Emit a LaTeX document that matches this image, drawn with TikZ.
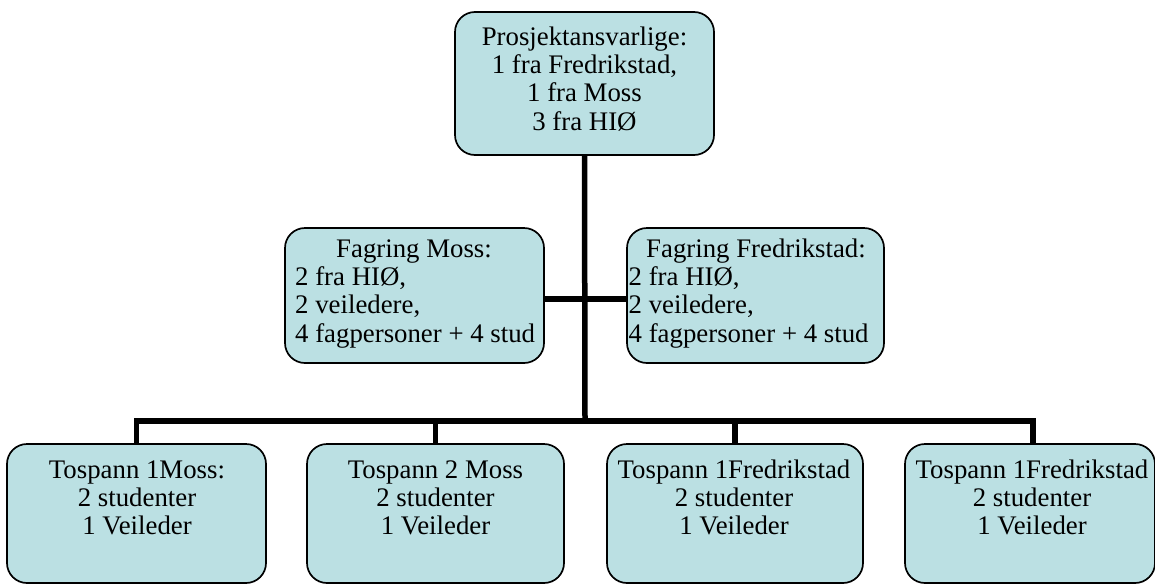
\documentclass[tikz,border=0pt]{standalone}
\usepackage{fontspec}
\setmainfont{Liberation Serif}
\definecolor{boxfill}{HTML}{BBE0E3}
\begin{document}
\begin{tikzpicture}[x=1pt,y=-1pt,
  box/.style={draw=black, line width=1.7pt, fill=boxfill, rounded corners=20pt, rectangle, inner sep=0pt},
  conn/.style={draw=black, line width=5.5pt, line join=miter},
  txt/.style={inner sep=0pt, font=\fontsize{26.8}{28.3}\selectfont},
]
\useasboundingbox (0,0) rectangle (1155,584);
\newcommand{\fl}{\rule{0pt}{22pt}}
% boxes
\node[box, minimum width=259pt, minimum height=143pt] (top) at (584.5,83.5) {};
\node[box, minimum width=259pt, minimum height=135pt] (fm) at (414.5,295.5) {};
\node[box, minimum width=257pt, minimum height=135pt] (ff) at (755.5,295.5) {};
\node[box, minimum width=259pt, minimum height=139pt] (b1) at (136.5,513.5) {};
\node[box, minimum width=257pt, minimum height=139pt] (b2) at (435.5,513.5) {};
\node[box, minimum width=256pt, minimum height=139pt] (b3) at (735,513.5) {};
\node[box, minimum width=250pt, minimum height=139pt] (b4) at (1030,513.5) {};
% connectors
\coordinate (bus) at (585,421);
\coordinate (fj) at (585,299);
\draw[conn] (top.south) -- (bus);
\draw[conn] (fm.east |- fj) -- (ff.west |- fj);
\draw[conn] (b1.north) -- (b1.north |- bus) -- ([xshift=3pt]b4.north |- bus) -- ([xshift=3pt]b4.north);
\draw[conn] (b2.north) -- (b2.north |- bus);
\draw[conn] (b3.north) -- (b3.north |- bus);
% texts
\node[txt, anchor=north, align=center] (ttop) at (584.5,23) {\fl Prosjektansvarlige:\\1 fra Fredrikstad,\\1 fra Moss\\3 fra HIØ};
\node[txt, anchor=north] (tfm1) at (414,235) {\fl Fagring Moss:};
\node[txt, anchor=north west, align=left] (tfm2) at (295,263.3) {\fl 2 fra HIØ,\\2 veiledere,\\4 fagpersoner + 4 stud};
\node[txt, anchor=north] (tff1) at (756,235) {\fl Fagring Fredrikstad:};
\node[txt, anchor=north west, align=left] (tff2) at (628.5,263.3) {\fl 2 fra HIØ,\\2 veiledere,\\4 fagpersoner + 4 stud};
\node[txt, anchor=north, align=center] (tb1) at (137,456) {\fl Tospann 1Moss:\\2 studenter\\1 Veileder};
\node[txt, anchor=north, align=center] (tb2) at (435.5,456) {\fl Tospann 2 Moss\\2 studenter\\1 Veileder};
\node[txt, anchor=north, align=center] (tb3) at (734,456) {\fl Tospann 1Fredrikstad\\2 studenter\\1 Veileder};
\node[txt, anchor=north, align=center] (tb4) at (1032,456) {\fl Tospann 1Fredrikstad\\2 studenter\\1 Veileder};
\end{tikzpicture}
\end{document}
